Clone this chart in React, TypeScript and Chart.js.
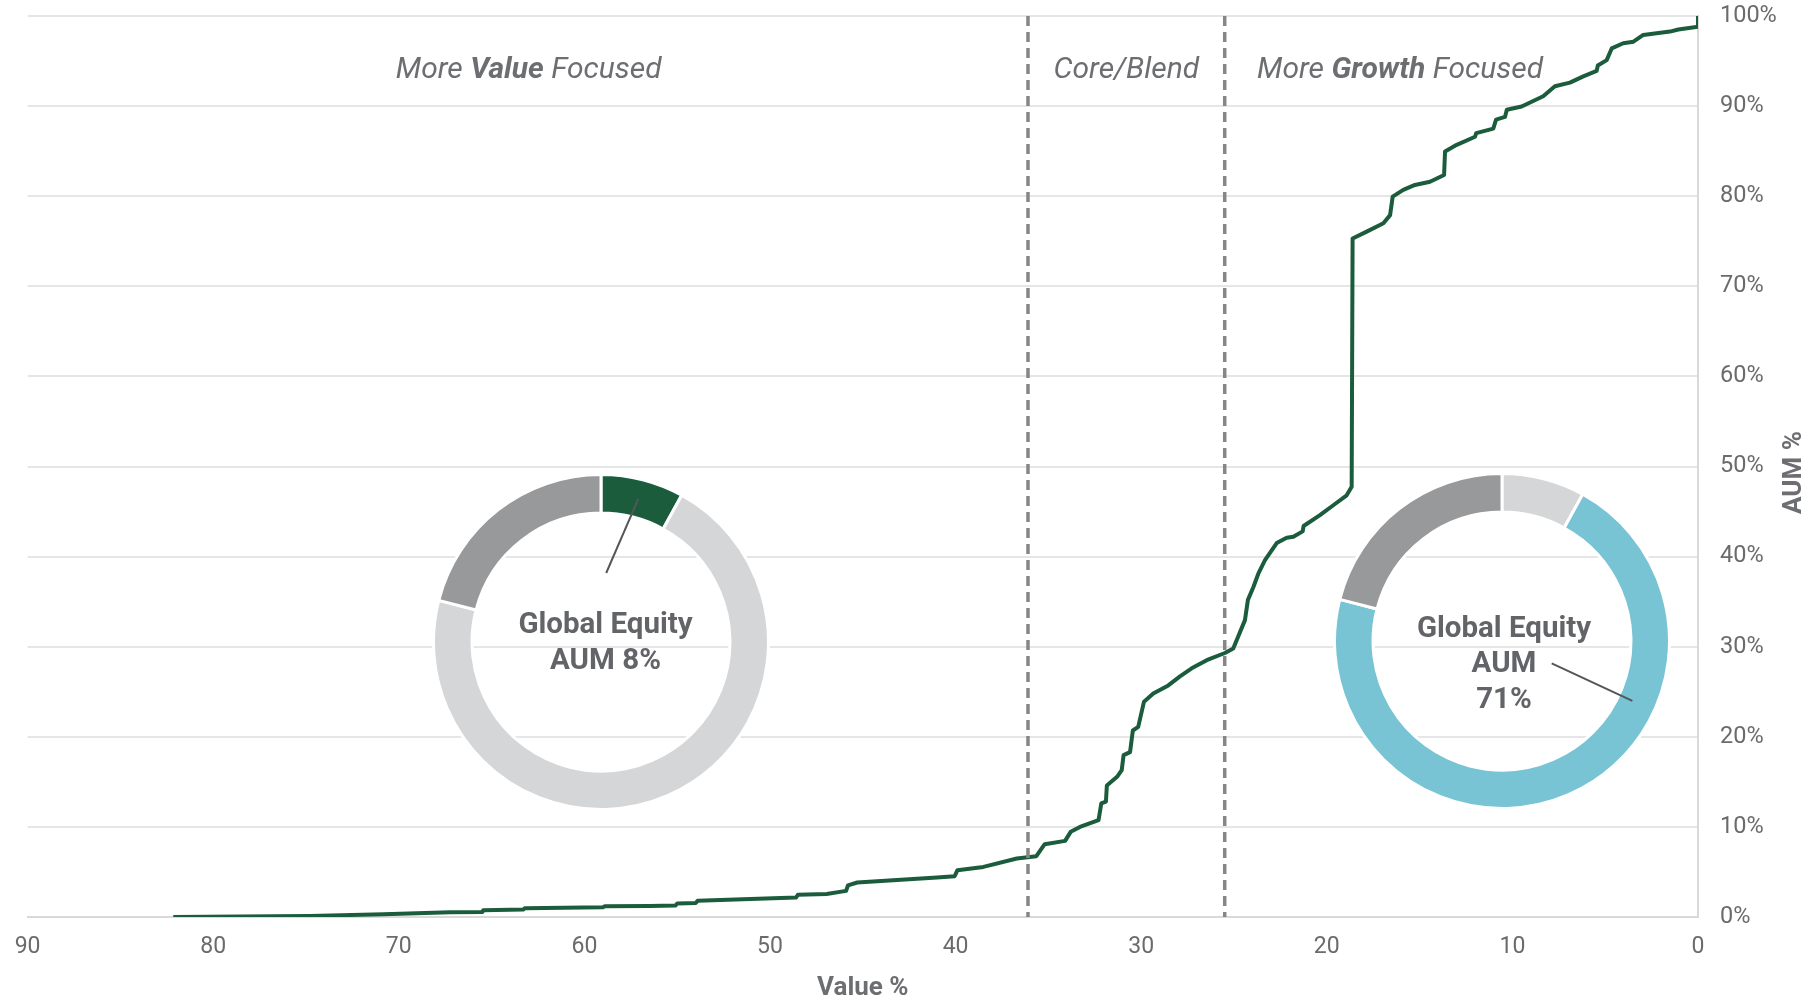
import React, { useEffect, useRef } from "react";
import { Chart, registerables } from "chart.js";

Chart.register(...registerables);

// ---- Data ----
const valuePct = [
  82.15, 78.5, 74.78, 70.83, 67.24, 65.5, 65.45, 63.3, 63.2, 59.0, 58.9, 56.5, 55.1, 55.0, 54.0, 53.9,
  48.6, 48.5, 46.95, 45.9, 45.8, 45.3, 41.0, 40.05, 39.9, 38.5, 36.7, 35.65, 35.5, 35.2, 34.1, 33.8,
  33.3, 32.3, 32.15, 31.9, 31.85, 31.3, 31.05, 30.95, 30.6, 30.45, 30.16, 29.85, 29.35, 28.54, 27.91,
  27.28, 26.47, 25.49, 25.04, 24.41, 24.25, 23.96, 23.69, 23.33, 22.7, 22.16, 21.8, 21.3, 21.25, 20.37,
  19.65, 18.93, 18.66, 18.61, 17.85, 16.95, 16.59, 16.45, 15.88, 15.25, 14.44, 13.68, 13.63, 13.0,
  12.01, 11.95, 11.03, 10.88, 10.4, 10.3, 9.5, 8.34, 7.71, 6.9, 6.18, 5.46, 5.4, 4.92, 4.65, 4.03,
  3.48, 2.95, 1.51, 1.06, 0, 0,
];
const aumPct = [
  0, 0.06, 0.12, 0.31, 0.53, 0.55, 0.75, 0.83, 0.98, 1.09, 1.2, 1.22, 1.27, 1.5, 1.55, 1.79,
  2.16, 2.46, 2.56, 2.9, 3.5, 3.83, 4.38, 4.53, 5.2, 5.56, 6.49, 6.75, 7.2, 8.08, 8.45, 9.45,
  10.0, 10.75, 12.6, 12.8, 14.6, 15.56, 16.3, 17.96, 18.3, 20.7, 21.1, 23.9, 24.8, 25.7, 26.7,
  27.6, 28.5, 29.3, 29.8, 32.95, 35.2, 36.6, 38.1, 39.6, 41.5, 42.1, 42.2, 42.8, 43.4, 44.6,
  45.7, 46.8, 47.75, 75.3, 76.07, 77.0, 77.9, 79.95, 80.7, 81.25, 81.6, 82.36, 84.95, 85.7,
  86.6, 87.0, 87.5, 88.5, 88.8, 89.6, 89.95, 91.1, 92.2, 92.6, 93.3, 93.9, 94.5, 95.1, 96.4, 96.98,
  97.15, 97.9, 98.27, 98.5, 98.8, 100,
];
const xAxisMin = 0;
const xAxisMax = 90;
const xTickStep = 10;
const yAxisMin = 0;
const yAxisMax = 100;
const yTickStep = 10;
const xAxisTitle = "Value %";
const yAxisTitle = "AUM %";
const styleBoundaries = [36.1, 25.5];
const regionLabelX = [63, 30.8, 16.05];
const regionLabelY = 93.95;
const regionLabelParts = [
  [{ t: "More ", b: false }, { t: "Value", b: true }, { t: " Focused", b: false }],
  [{ t: "Core/Blend", b: false }],
  [{ t: "More ", b: false }, { t: "Growth", b: true }, { t: " Focused", b: false }],
];
const donutValues = [8, 71, 21];
const donutLeftColors = ["#1b5c3c", "#d5d6d8", "#98999b"];
const donutRightColors = ["#d5d6d8", "#79c4d4", "#98999b"];
const donutLeftText = ["Global Equity", "AUM 8%"];
const donutRightText = ["Global Equity", "AUM", "71%"];

// ---- Styles ----
const W = 1806;
const H = 1001;
const GREEN = "#1b5c3c";
const TEXT_GRAY = "#6d6e71";
const TICK_GRAY = "#6b6b6b";
const FONT = "Roboto";

const overlayPlugin = {
  id: "overlay",
  afterDatasetsDraw(chart: any) {
    const { ctx, chartArea } = chart;
    const xs = chart.scales.x;
    const ys = chart.scales.y;
    ctx.save();
    // dashed boundaries
    ctx.strokeStyle = "#868686";
    ctx.lineWidth = 3.5;
    ctx.setLineDash([10, 6]);
    styleBoundaries.forEach((v) => {
      const px = xs.getPixelForValue(v);
      ctx.beginPath();
      ctx.moveTo(px, chartArea.top);
      ctx.lineTo(px, chartArea.bottom);
      ctx.stroke();
    });
    ctx.setLineDash([]);
    // region labels
    ctx.fillStyle = TEXT_GRAY;
    ctx.textBaseline = "middle";
    ctx.textAlign = "left";
    const py = ys.getPixelForValue(regionLabelY);
    regionLabelParts.forEach((parts, i) => {
      const cx = xs.getPixelForValue(regionLabelX[i]);
      let total = 0;
      const widths = parts.map((p) => {
        ctx.font = `italic ${p.b ? "bold " : ""}30px ${FONT}`;
        const w = ctx.measureText(p.t).width;
        total += w;
        return w;
      });
      let x = cx - total / 2;
      parts.forEach((p, j) => {
        ctx.font = `italic ${p.b ? "bold " : ""}30px ${FONT}`;
        ctx.fillText(p.t, x, py);
        x += widths[j];
      });
    });
    ctx.restore();
  },
  afterDraw(chart: any) {
    const { ctx, chartArea } = chart;
    ctx.save();
    ctx.fillStyle = TEXT_GRAY;
    ctx.font = `bold 26px ${FONT}`;
    ctx.textAlign = "center";
    ctx.textBaseline = "middle";
    ctx.fillText(xAxisTitle, (chartArea.left + chartArea.right) / 2, 988);
    ctx.translate(1794, (chartArea.top + chartArea.bottom) / 2 + 6);
    ctx.rotate(-Math.PI / 2);
    ctx.fillText(yAxisTitle, 0, 0);
    ctx.restore();
  },
};

function MainChart() {
  const ref = useRef<HTMLCanvasElement>(null);
  useEffect(() => {
    const data = valuePct.map((v, i) => ({ x: v, y: aumPct[i] }));
    const chart = new Chart(ref.current as HTMLCanvasElement, {
      type: "line",
      data: {
        datasets: [
          {
            data,
            borderColor: GREEN,
            borderWidth: 4,
            pointRadius: 0,
            tension: 0,
            fill: false,
            borderJoinStyle: "round",
          } as any,
        ],
      },
      options: {
        animation: false,
        responsive: false,
        maintainAspectRatio: false,
        events: [],
        layout: { padding: { left: 27.6, top: 16, right: 0, bottom: 0 } },
        plugins: { legend: { display: false }, tooltip: { enabled: false } },
        scales: {
          x: {
            type: "linear",
            reverse: true,
            min: xAxisMin,
            max: xAxisMax,
            position: "bottom",
            ticks: {
              stepSize: xTickStep,
              padding: 16,
              color: TICK_GRAY,
              maxRotation: 0,
              font: { family: FONT, size: 23 },
            },
            grid: { display: false, drawTicks: false },
            border: { display: true, color: "#d9d9d9", width: 2 },
            afterFit: (s: any) => {
              s.height = 84;
              s.paddingLeft = 0;
              s.paddingRight = 0;
            },
          },
          y: {
            type: "linear",
            position: "right",
            min: yAxisMin,
            max: yAxisMax,
            ticks: {
              stepSize: yTickStep,
              padding: 22,
              color: TICK_GRAY,
              font: { family: FONT, size: 23.5 },
              callback: (v: any) => v + "%",
            },
            grid: { color: "#e6e6e6", lineWidth: 2, drawTicks: false },
            border: { display: true, color: "#d9d9d9", width: 2 },
            afterFit: (s: any) => {
              s.width = 108;
              s.paddingTop = 0;
              s.paddingBottom = 0;
            },
          },
        },
      },
      plugins: [overlayPlugin],
    });
    return () => chart.destroy();
  }, []);
  return (
    <canvas
      ref={ref}
      width={W}
      height={H}
      style={{ position: "absolute", left: 0, top: 0, width: W, height: H }}
    />
  );
}

type DonutProps = {
  cx: number;
  cy: number;
  colors: string[];
  lines: string[];
  textDx: number;
  textTop: number;
  leaderAngleDeg: number;
  leaderRadius: number;
  leaderInner: [number, number];
};

const DONUT_SIZE = 338;

function Donut(props: DonutProps) {
  const ref = useRef<HTMLCanvasElement>(null);
  useEffect(() => {
    const textPlugin = {
      id: "donutText",
      afterDraw(chart: any) {
        const { ctx } = chart;
        const meta = chart.getDatasetMeta(0);
        const arc = meta.data[0];
        const ox = arc.x;
        const oy = arc.y;
        ctx.save();
        // leader line
        const a = (props.leaderAngleDeg * Math.PI) / 180;
        const r = props.leaderRadius;
        ctx.strokeStyle = "#555659";
        ctx.lineWidth = 2;
        ctx.beginPath();
        ctx.moveTo(ox + Math.sin(a) * r, oy - Math.cos(a) * r);
        ctx.lineTo(ox + props.leaderInner[0], oy + props.leaderInner[1]);
        ctx.stroke();
        // text
        ctx.fillStyle = "#626468";
        ctx.font = `bold 29.5px ${FONT}`;
        ctx.textAlign = "center";
        ctx.textBaseline = "middle";
        props.lines.forEach((l, i) => {
          ctx.fillText(l, ox + props.textDx, oy + props.textTop + i * 35.5);
        });
        ctx.restore();
      },
    };
    const chart = new Chart(ref.current as HTMLCanvasElement, {
      type: "doughnut",
      data: {
        datasets: [
          {
            data: donutValues,
            backgroundColor: props.colors,
            borderColor: "#ffffff",
            borderWidth: 3,
          },
        ],
      },
      options: {
        animation: false,
        responsive: false,
        maintainAspectRatio: false,
        events: [],
        cutout: "77%",
        layout: { padding: 0 },
        plugins: { legend: { display: false }, tooltip: { enabled: false } },
      },
      plugins: [textPlugin],
    });
    return () => chart.destroy();
  }, []);
  return (
    <canvas
      ref={ref}
      width={DONUT_SIZE}
      height={DONUT_SIZE}
      style={{
        position: "absolute",
        left: props.cx - DONUT_SIZE / 2,
        top: props.cy - DONUT_SIZE / 2,
        width: DONUT_SIZE,
        height: DONUT_SIZE,
      }}
    />
  );
}

export default function App() {
  return (
    <div
      style={{
        position: "fixed",
        left: 0,
        top: 0,
        width: W,
        height: H,
        background: "#ffffff",
        overflow: "hidden",
      }}
    >
      <MainChart />
      <Donut
        cx={600.5}
        cy={642}
        colors={donutLeftColors}
        lines={donutLeftText}
        textDx={4.5}
        textTop={-16}
        leaderAngleDeg={14.6}
        leaderRadius={148}
        leaderInner={[5.2, -69]}
      />
      <Donut
        cx={1502}
        cy={641}
        colors={donutRightColors}
        lines={donutRightText}
        textDx={2}
        textTop={-11.5}
        leaderAngleDeg={114.7}
        leaderRadius={143.5}
        leaderInner={[49.7, 22.3]}
      />
    </div>
  );
}
